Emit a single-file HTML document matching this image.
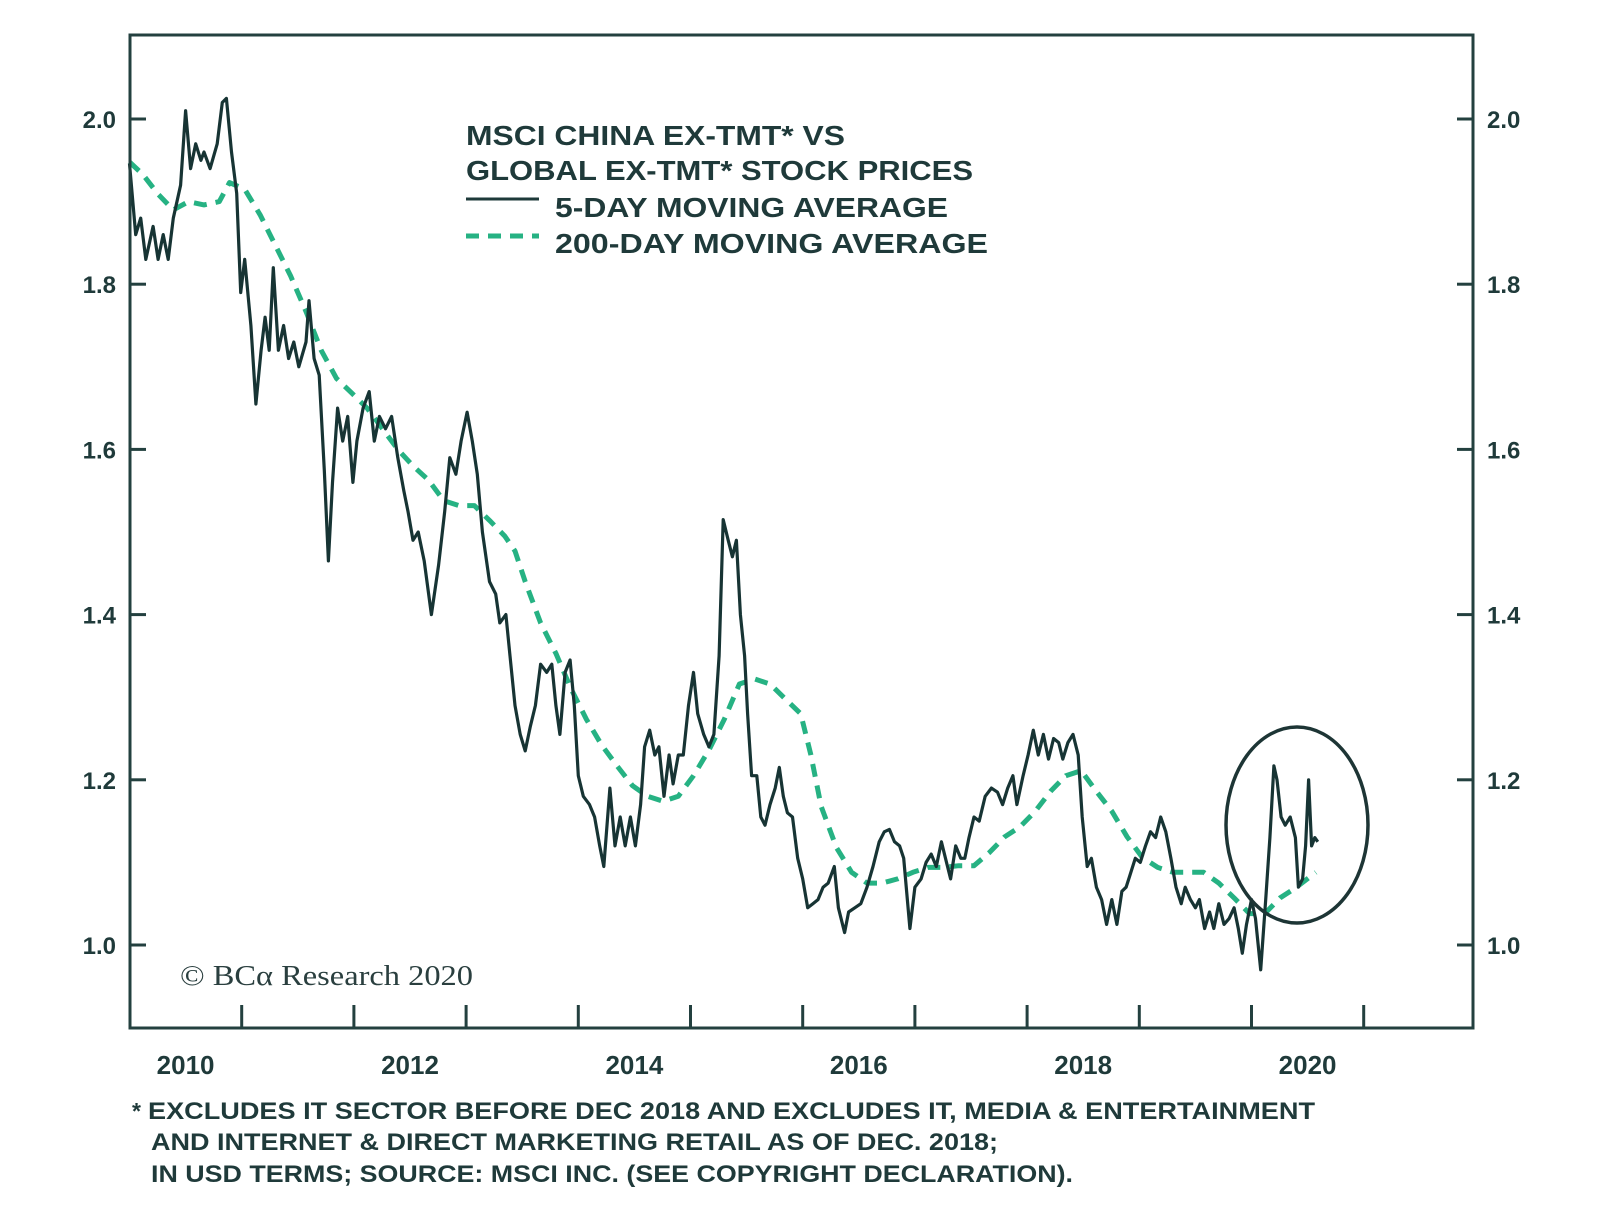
<!DOCTYPE html>
<html><head><meta charset="utf-8"><title>MSCI China ex-TMT vs Global ex-TMT</title>
<style>
html,body{margin:0;padding:0;background:#fff;}
svg{display:block;}
.t{font-family:"Liberation Sans",sans-serif;font-weight:bold;fill:#1f3a3a;}
</style></head>
<body>
<svg id="chart" width="1600" height="1228" viewBox="0 0 1600 1228" xmlns="http://www.w3.org/2000/svg">
  <rect x="0" y="0" width="1600" height="1228" fill="#fff"/>
  <g id="series"></g>
  <g id="axes"></g>
  <rect x="130" y="35" width="1343" height="993" fill="none" stroke="#23403f" stroke-width="3"/>
  <ellipse cx="1297" cy="825" rx="71" ry="98" fill="none" stroke="#1d3535" stroke-width="3.5"/>
  <g>
    <text class="t" x="466" y="145" font-size="28" textLength="379" lengthAdjust="spacingAndGlyphs">MSCI CHINA EX-TMT* VS</text>
    <text class="t" x="466" y="180" font-size="28" textLength="507" lengthAdjust="spacingAndGlyphs">GLOBAL EX-TMT* STOCK PRICES</text>
    <line x1="466" y1="199" x2="539" y2="199" stroke="#1d3939" stroke-width="3"/>
    <text class="t" x="555" y="217" font-size="28" textLength="393" lengthAdjust="spacingAndGlyphs">5-DAY MOVING AVERAGE</text>
    <line x1="466" y1="236" x2="539" y2="236" stroke="#26b283" stroke-width="5" stroke-dasharray="13,9"/>
    <text class="t" x="555" y="253" font-size="28" textLength="433" lengthAdjust="spacingAndGlyphs">200-DAY MOVING AVERAGE</text>
  </g>
  <text x="180" y="985" font-family="Liberation Serif, serif" font-size="29" fill="#2a3f3f" textLength="293" lengthAdjust="spacingAndGlyphs">© BCα Research 2020</text>
  <g>
    <text class="t" x="132" y="1119" font-size="23">*</text>
    <text class="t" x="148" y="1119" font-size="24" textLength="1167" lengthAdjust="spacingAndGlyphs">EXCLUDES IT SECTOR BEFORE DEC 2018 AND EXCLUDES IT, MEDIA &amp; ENTERTAINMENT</text>
    <text class="t" x="151" y="1150" font-size="24" textLength="847" lengthAdjust="spacingAndGlyphs">AND INTERNET &amp; DIRECT MARKETING RETAIL AS OF DEC. 2018;</text>
    <text class="t" x="151" y="1182" font-size="24" textLength="922" lengthAdjust="spacingAndGlyphs">IN USD TERMS; SOURCE: MSCI INC. (SEE COPYRIGHT DECLARATION).</text>
  </g>
</svg>
<script>
// ---- data ----
const dailyDates = [2010.00,2010.055,2010.10,2010.145,2010.21,2010.255,2010.30,2010.345,2010.39,2010.455,2010.50,2010.545,2010.59,2010.636,2010.664,2010.718,2010.782,2010.827,2010.864,2010.909,2010.955,2010.991,2011.027,2011.082,2011.127,2011.173,2011.209,2011.245,2011.282,2011.327,2011.373,2011.418,2011.464,2011.509,2011.573,2011.60,2011.645,2011.691,2011.736,2011.773,2011.809,2011.855,2011.90,2011.945,2011.991,2012.027,2012.082,2012.136,2012.182,2012.227,2012.282,2012.336,2012.391,2012.445,2012.482,2012.527,2012.573,2012.627,2012.691,2012.755,2012.809,2012.855,2012.909,2012.955,2013.009,2013.055,2013.10,2013.145,2013.209,2013.264,2013.30,2013.355,2013.391,2013.436,2013.482,2013.527,2013.573,2013.618,2013.664,2013.718,2013.764,2013.80,2013.836,2013.882,2013.927,2013.964,2014.00,2014.045,2014.10,2014.145,2014.191,2014.227,2014.282,2014.327,2014.373,2014.418,2014.464,2014.509,2014.555,2014.591,2014.636,2014.682,2014.718,2014.764,2014.809,2014.845,2014.891,2014.936,2014.982,2015.027,2015.064,2015.118,2015.164,2015.209,2015.255,2015.291,2015.336,2015.373,2015.409,2015.445,2015.482,2015.509,2015.545,2015.591,2015.627,2015.664,2015.709,2015.755,2015.791,2015.827,2015.864,2015.909,2015.955,2016.00,2016.045,2016.091,2016.136,2016.182,2016.227,2016.282,2016.318,2016.373,2016.409,2016.464,2016.518,2016.573,2016.627,2016.682,2016.727,2016.773,2016.818,2016.864,2016.90,2016.955,2017.00,2017.055,2017.10,2017.145,2017.191,2017.236,2017.282,2017.318,2017.364,2017.409,2017.445,2017.482,2017.527,2017.573,2017.627,2017.682,2017.736,2017.782,2017.827,2017.873,2017.909,2017.964,2018.009,2018.055,2018.10,2018.145,2018.191,2018.236,2018.282,2018.318,2018.364,2018.409,2018.455,2018.491,2018.536,2018.573,2018.618,2018.664,2018.709,2018.755,2018.80,2018.845,2018.882,2018.918,2018.964,2019.009,2019.055,2019.10,2019.145,2019.191,2019.236,2019.282,2019.327,2019.373,2019.409,2019.455,2019.50,2019.536,2019.582,2019.627,2019.664,2019.709,2019.755,2019.80,2019.845,2019.882,2019.918,2019.955,2020.00,2020.036,2020.082,2020.127,2020.164,2020.20,2020.227,2020.264,2020.30,2020.345,2020.391,2020.418,2020.455,2020.482,2020.509,2020.536,2020.564,2020.591];
const dailyValues = [1.946,1.86,1.88,1.83,1.87,1.83,1.86,1.83,1.88,1.92,2.01,1.94,1.97,1.95,1.96,1.94,1.97,2.02,2.025,1.96,1.91,1.79,1.83,1.75,1.655,1.72,1.76,1.72,1.82,1.72,1.75,1.71,1.73,1.70,1.73,1.78,1.71,1.69,1.575,1.465,1.56,1.65,1.61,1.64,1.56,1.61,1.65,1.67,1.61,1.64,1.625,1.64,1.59,1.55,1.525,1.49,1.50,1.465,1.40,1.46,1.525,1.59,1.57,1.61,1.645,1.61,1.57,1.50,1.44,1.425,1.39,1.40,1.35,1.29,1.255,1.235,1.265,1.29,1.34,1.33,1.34,1.29,1.255,1.33,1.345,1.29,1.205,1.18,1.17,1.155,1.12,1.095,1.19,1.12,1.155,1.12,1.155,1.12,1.17,1.24,1.26,1.23,1.24,1.18,1.23,1.195,1.23,1.23,1.29,1.33,1.28,1.255,1.24,1.255,1.35,1.515,1.49,1.47,1.49,1.40,1.35,1.28,1.205,1.205,1.155,1.145,1.17,1.19,1.215,1.18,1.16,1.155,1.105,1.08,1.045,1.05,1.055,1.07,1.075,1.095,1.045,1.015,1.04,1.045,1.05,1.07,1.095,1.125,1.137,1.14,1.125,1.12,1.105,1.02,1.07,1.08,1.10,1.11,1.095,1.125,1.10,1.08,1.12,1.105,1.105,1.13,1.155,1.15,1.18,1.19,1.185,1.17,1.19,1.205,1.17,1.205,1.23,1.26,1.23,1.255,1.225,1.25,1.245,1.225,1.245,1.255,1.23,1.155,1.095,1.105,1.07,1.055,1.025,1.055,1.025,1.065,1.07,1.085,1.105,1.10,1.12,1.137,1.13,1.155,1.137,1.105,1.07,1.05,1.07,1.055,1.045,1.055,1.02,1.04,1.02,1.05,1.025,1.032,1.045,1.02,0.99,1.025,1.055,1.032,0.97,1.055,1.13,1.217,1.20,1.155,1.145,1.155,1.13,1.07,1.08,1.12,1.20,1.12,1.13,1.125];
const maDates = [2010.00,2010.118,2010.255,2010.39,2010.527,2010.664,2010.80,2010.891,2011.027,2011.164,2011.30,2011.436,2011.573,2011.709,2011.845,2011.982,2012.118,2012.255,2012.391,2012.527,2012.664,2012.80,2012.936,2013.073,2013.209,2013.345,2013.436,2013.527,2013.664,2013.80,2013.936,2014.073,2014.209,2014.345,2014.482,2014.618,2014.755,2014.891,2015.027,2015.164,2015.30,2015.436,2015.573,2015.709,2015.845,2015.982,2016.073,2016.164,2016.30,2016.436,2016.573,2016.709,2016.845,2016.982,2017.118,2017.255,2017.391,2017.527,2017.664,2017.80,2017.936,2018.073,2018.209,2018.345,2018.482,2018.618,2018.755,2018.891,2019.027,2019.164,2019.30,2019.436,2019.573,2019.709,2019.845,2019.982,2020.118,2020.255,2020.391,2020.573];
const maValues = [1.948,1.933,1.909,1.89,1.90,1.896,1.90,1.923,1.915,1.884,1.847,1.81,1.767,1.72,1.686,1.668,1.65,1.625,1.60,1.58,1.563,1.538,1.532,1.532,1.514,1.495,1.477,1.44,1.39,1.353,1.31,1.273,1.242,1.217,1.193,1.18,1.174,1.18,1.205,1.236,1.273,1.316,1.322,1.316,1.298,1.28,1.23,1.168,1.118,1.088,1.075,1.075,1.08,1.088,1.094,1.094,1.096,1.096,1.112,1.131,1.143,1.162,1.186,1.205,1.211,1.186,1.162,1.131,1.106,1.094,1.088,1.088,1.088,1.075,1.057,1.038,1.038,1.057,1.069,1.088];
const yTicks = [1.0,1.2,1.4,1.6,1.8,2.0];
const yTickLabels = ["1.0","1.2","1.4","1.6","1.8","2.0"];
const xTickYears = [2011,2012,2013,2014,2015,2016,2017,2018,2019,2020,2021];
const xLabelYears = [2010,2012,2014,2016,2018,2020];

// ---- scales ----
const X0 = 129.5, PX_PER_YEAR = 112.2;
const Y1 = 945, PX_PER_UNIT = 826;
function xs(t){ return X0 + (t - 2010) * PX_PER_YEAR; }
function ys(v){ return Y1 - (v - 1) * PX_PER_UNIT; }

const NS = "http://www.w3.org/2000/svg";
const series = document.getElementById('series');
const axes = document.getElementById('axes');

function pts(d, v){ return d.map((t,i)=>xs(t).toFixed(1)+','+ys(v[i]).toFixed(1)).join(' '); }

const ma = document.createElementNS(NS,'polyline');
ma.setAttribute('points', pts(maDates, maValues));
ma.setAttribute('fill','none');
ma.setAttribute('stroke','#26b283');
ma.setAttribute('stroke-width','5');
ma.setAttribute('stroke-dasharray','13,9');
ma.setAttribute('stroke-linejoin','round');


series.appendChild(ma);

const d5 = document.createElementNS(NS,'polyline');
d5.setAttribute('points', pts(dailyDates, dailyValues));
d5.setAttribute('fill','none');
d5.setAttribute('stroke','#173434');
d5.setAttribute('stroke-width','3.2');
d5.setAttribute('stroke-linejoin','round');


series.appendChild(d5);

yTicks.forEach((v,i)=>{
  const y = ys(v);
  const l1 = document.createElementNS(NS,'line');
  l1.setAttribute('x1',130); l1.setAttribute('x2',146); l1.setAttribute('y1',y); l1.setAttribute('y2',y);
  l1.setAttribute('stroke','#23403f'); l1.setAttribute('stroke-width','3');
  
  
  axes.appendChild(l1);
  const l2 = document.createElementNS(NS,'line');
  l2.setAttribute('x1',1457); l2.setAttribute('x2',1473); l2.setAttribute('y1',y); l2.setAttribute('y2',y);
  l2.setAttribute('stroke','#23403f'); l2.setAttribute('stroke-width','3');
  
  
  axes.appendChild(l2);
  const t1 = document.createElementNS(NS,'text');
  t1.setAttribute('class','t'); t1.setAttribute('x',116); t1.setAttribute('y',y+9);
  t1.setAttribute('text-anchor','end'); t1.setAttribute('font-size','24');
  t1.textContent = yTickLabels[i];
  
  
  axes.appendChild(t1);
  const t2 = document.createElementNS(NS,'text');
  t2.setAttribute('class','t'); t2.setAttribute('x',1487); t2.setAttribute('y',y+9);
  t2.setAttribute('font-size','24');
  t2.textContent = yTickLabels[i];
  
  
  axes.appendChild(t2);
});

xTickYears.forEach(yr=>{
  const x = xs(yr);
  const l = document.createElementNS(NS,'line');
  l.setAttribute('x1',x); l.setAttribute('x2',x); l.setAttribute('y1',1005); l.setAttribute('y2',1028);
  l.setAttribute('stroke','#23403f'); l.setAttribute('stroke-width','3');
  
  
  axes.appendChild(l);
});

xLabelYears.forEach(yr=>{
  const t = document.createElementNS(NS,'text');
  t.setAttribute('class','t'); t.setAttribute('x', xs(yr + 0.5)); t.setAttribute('y', 1074);
  t.setAttribute('text-anchor','middle'); t.setAttribute('font-size','26');
  t.textContent = String(yr);
  
  
  axes.appendChild(t);
});
</script>
</body></html>
